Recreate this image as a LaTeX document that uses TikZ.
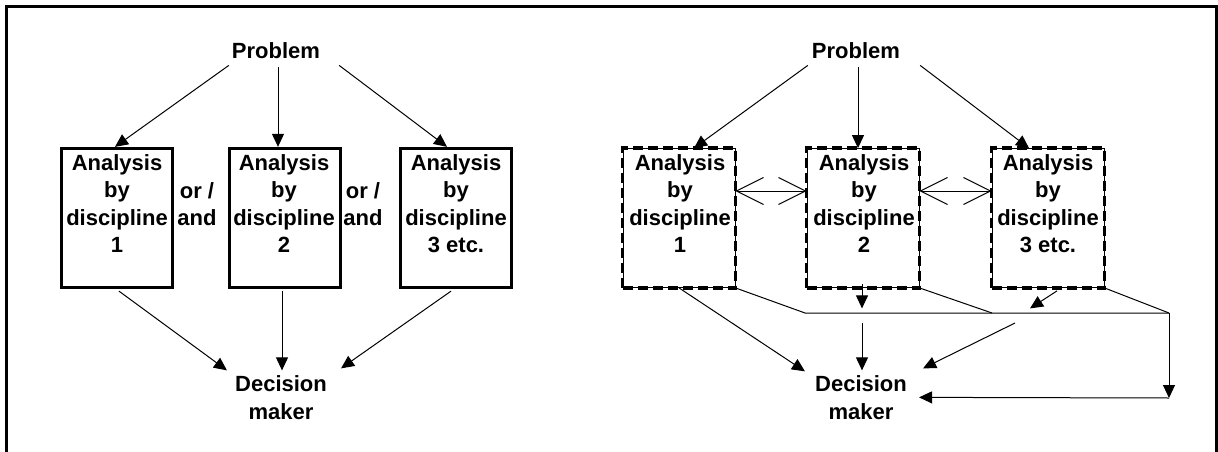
\documentclass[tikz,border=0pt]{standalone}
\usepackage{fontspec}
\setmainfont{Liberation Sans}
\usetikzlibrary{arrows.meta}
\begin{document}
\begin{tikzpicture}[x=1pt,y=-1pt,
  lbl/.style={inner sep=0pt, font=\bfseries\fontsize{22}{27.5}\selectfont, align=center, anchor=base},
  solidbox/.style={draw, line width=3.3pt, minimum width=111pt, minimum height=139pt, inner sep=0pt},
  dashbox/.style={draw, line width=0.8pt, minimum width=112pt, minimum height=139pt, inner sep=0pt},
  dashedge/.style={line width=3.3pt, dash pattern=on 10pt off 5pt},
  arr/.style={line width=1pt, -{Triangle[length=13pt,width=12pt]}},
  link/.style={line width=1pt},
  barbs/.style={line width=1pt, {Straight Barb[length=27pt,width=27pt]}-{Straight Barb[length=27pt,width=27pt]}},
  frame/.style={line width=3pt}
]
\useasboundingbox (0,0) rectangle (1218,452);
\draw[frame] (6.5,470) -- (6.5,7) -- (1216,7) -- (1216,470);

% multi-line labels are placed by the baseline of their last line

% ---------- independent analyses ----------
\node[lbl] (p1) at (276,59) {Problem};
\node[solidbox] (b1) at (117,218) {};
\node[solidbox] (b2) at (285,218) {};
\node[solidbox] (b3) at (456,218) {};
\node[lbl] (t1) at (117,252.5) {Analysis\\by\\discipline\\1};
\node[lbl] (t2) at (284,252.5) {Analysis\\by\\discipline\\2};
\node[lbl] (t3) at (456,252.5) {Analysis\\by\\discipline\\3 etc.};
\node[lbl] (o1) at (197,225.5) {or /\\and};
\node[lbl] (o2) at (363,225.5) {or /\\and};
\node[lbl] (d1) at (281,419) {Decision\\maker};

\draw[arr] ([shift={(-3,6)}]p1.south west) -- ([shift={(-2,0)}]b1.north);
\draw[arr] ([shift={(2,8)}]p1.south) -- ([shift={(-7,0)}]b2.north);
\draw[arr] ([shift={(19,6)}]p1.south east) -- ([shift={(-9,0)}]b3.north);
\draw[arr] ([shift={(2,2)}]b1.south) -- ([shift={(-8,-5)}]d1.north west);
\draw[arr] ([shift={(-3,2)}]b2.south) -- ([shift={(1,-5)}]d1.north);
\draw[arr] ([shift={(-5,2)}]b3.south) -- ([shift={(14,-7)}]d1.north east);

% ---------- interacting analyses ----------
\node[lbl] (p2) at (856,59) {Problem};
\node[dashbox] (rb1) at (679,218) {};
\node[dashbox] (rb2) at (863,218) {};
\node[dashbox] (rb3) at (1048,218) {};
\foreach \b in {rb1,rb2,rb3}
  \draw[dashedge] (\b.south west) rectangle (\b.north east);
\node[lbl] (rt1) at (680,252.5) {Analysis\\by\\discipline\\1};
\node[lbl] (rt2) at (864,252.5) {Analysis\\by\\discipline\\2};
\node[lbl] (rt3) at (1048,252.5) {Analysis\\by\\discipline\\3 etc.};
\node[lbl] (d2) at (861,419) {Decision\\maker};

\draw[arr] ([shift={(-4,6)}]p2.south west) -- ([shift={(15,0)}]rb1.north);
\draw[arr] ([shift={(2,8)}]p2.south) -- ([shift={(-5,0)}]rb2.north);
\draw[arr] ([shift={(20,6)}]p2.south east) -- ([shift={(-19,0)}]rb3.north);

\draw[barbs] ([shift={(0,-27)}]rb1.east) -- ([shift={(0,-27)}]rb2.west);
\draw[barbs] ([shift={(0,-27)}]rb2.east) -- ([shift={(0,-27)}]rb3.west);

\coordinate (j1) at (805,313);
\coordinate (j2) at (992,313);
\coordinate (j3) at (1169,313);
\coordinate (k) at (1169,398);
\coordinate (s1) at (862,323);
\coordinate (s2) at (1015,323);

\draw[link] (rb1.south east) -- (j1) -- (j3);
\draw[link] (rb2.south east) -- (j2);
\draw[link] (rb3.south east) -- (j3);
\draw[arr] (j3) -- (k);
\draw[arr] (k) -- ([shift={(12,22)}]d2.north east);
\draw[arr] (rb1.south) -- ([shift={(-10,-4)}]d2.north west);
\draw[arr] ([shift={(-1,-4)}]rb2.south) -- ([shift={(-1,20.5)}]rb2.south);
\draw[arr] (s1) -- ([shift={(1,-5)}]d2.north);
\draw[arr] ([shift={(9,3)}]rb3.south) -- ([shift={(-18,20.5)}]rb3.south);
\draw[arr] (s2) -- ([shift={(16,-7)}]d2.north east);
\end{tikzpicture}
\end{document}
